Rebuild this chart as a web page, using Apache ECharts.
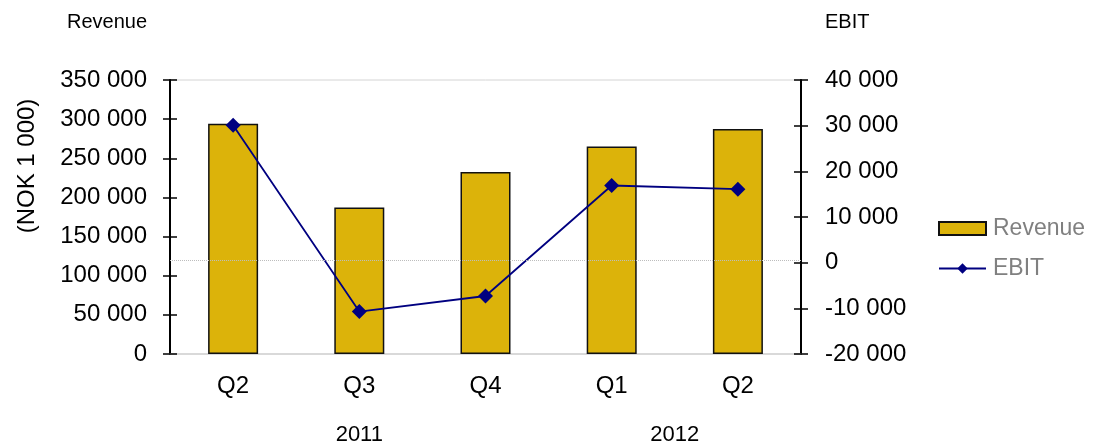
<!DOCTYPE html>
<html>
<head>
<meta charset="utf-8">
<script src="https://cdn.jsdelivr.net/npm/echarts@6/dist/echarts.min.js"></script>
<style>
  html, body { margin: 0; padding: 0; background: #fff; }
  #chart { width: 1093px; height: 446px; }
</style>
</head>
<body>
<div id="chart"></div>
<script>
// Quarterly revenue and EBIT, NOK 1 000
const quarters = ['Q2', 'Q3', 'Q4', 'Q1', 'Q2'];
const revenue = [294000, 187000, 232500, 265000, 287500];
const ebit = [30100, -10700, -7300, 16900, 16100];
const yearGroups = [
  { label: '2011', first: 0, last: 2 },
  { label: '2012', first: 3, last: 4 }
];
const revenueTicks = { min: 0, max: 350000, interval: 50000 };
const ebitTicks = { min: -20000, max: 40000, interval: 10000 };
const referenceLevel = 120000;

const FONT = "'Liberation Sans', Arial, sans-serif";
const fmt = v => String(v).replace(/\B(?=(\d{3})+(?!\d))/g, ' ');

const chart = echarts.init(document.getElementById('chart'), null, { renderer: 'canvas' });

const tickStyle = { color: '#000', width: 1.5 };
const baseY = (pos, ticks, withLabels, inside) => ({
  type: 'value',
  position: pos,
  min: ticks.min,
  max: ticks.max,
  interval: ticks.interval,
  axisLine: { show: withLabels, lineStyle: { color: '#000', width: 2 } },
  axisTick: { show: true, inside: inside, length: 7, lineStyle: tickStyle },
  axisLabel: {
    show: withLabels,
    formatter: fmt,
    color: '#000',
    fontSize: 24,
    fontFamily: FONT,
    margin: pos === 'left' ? 23 : 24
  },
  splitLine: { show: false }
});

chart.setOption({
  animation: false,
  backgroundColor: '#fff',
  textStyle: { fontFamily: FONT },
  grid: {
    left: 170, right: 292, top: 80, bottom: 92,
    show: true, borderColor: '#d4d4d4', borderWidth: 1
  },
  legend: {
    orient: 'vertical',
    left: 938,
    top: 217,
    padding: 0,
    itemWidth: 47,
    itemHeight: 13,
    itemGap: 17,
    textStyle: { color: '#808080', fontSize: 23, fontFamily: FONT, padding: [0, 0, 0, 2] },
    data: [{ name: 'Revenue', icon: 'rect' }, { name: 'EBIT' }]
  },
  xAxis: {
    type: 'category',
    data: quarters,
    axisLine: { lineStyle: { color: '#d4d4d4', width: 1.5 } },
    axisTick: { show: false },
    axisLabel: { color: '#000', fontSize: 24, fontFamily: FONT, margin: 20 }
  },
  yAxis: [
    baseY('left', revenueTicks, true, false),
    baseY('right', ebitTicks, true, false),
    baseY('left', revenueTicks, false, true),
    baseY('right', ebitTicks, false, true)
  ],
  series: [
    {
      name: 'Revenue',
      type: 'bar',
      yAxisIndex: 0,
      data: revenue,
      barWidth: 50,
      itemStyle: { color: '#DCB30A', borderColor: '#111', borderWidth: 1.5 },
      markLine: {
        silent: true,
        symbol: 'none',
        label: { show: false },
        lineStyle: { color: '#bdbdbd', type: 'dotted', width: 1 },
        data: [{ yAxis: referenceLevel }]
      }
    },
    {
      name: 'EBIT',
      type: 'line',
      yAxisIndex: 1,
      data: ebit,
      symbol: 'diamond',
      symbolSize: 15,
      lineStyle: { color: '#000080', width: 1.8 },
      itemStyle: { color: '#000080' }
    }
  ]
});

// Axis titles and year captions centred under their quarters
const graphics = [
  { type: 'text', left: 67, top: 12, style: { text: 'Revenue', fill: '#000', fontSize: 20, fontFamily: FONT } },
  { type: 'text', left: 825, top: 12, style: { text: 'EBIT', fill: '#000', fontSize: 20, fontFamily: FONT } },
  {
    type: 'text', x: 27, y: 166, rotation: Math.PI / 2,
    style: {
      text: '(NOK 1 000)', fill: '#000', fontSize: 24, fontFamily: FONT,
      align: 'center', verticalAlign: 'middle'
    }
  }
];
yearGroups.forEach(g => {
  const x0 = chart.convertToPixel({ xAxisIndex: 0 }, g.first);
  const x1 = chart.convertToPixel({ xAxisIndex: 0 }, g.last);
  graphics.push({
    type: 'text',
    x: (x0 + x1) / 2,
    y: 435,
    style: {
      text: g.label, fill: '#000', fontSize: 22, fontFamily: FONT,
      align: 'center', verticalAlign: 'middle'
    }
  });
});
chart.setOption({ graphic: graphics });
</script>
</body>
</html>
